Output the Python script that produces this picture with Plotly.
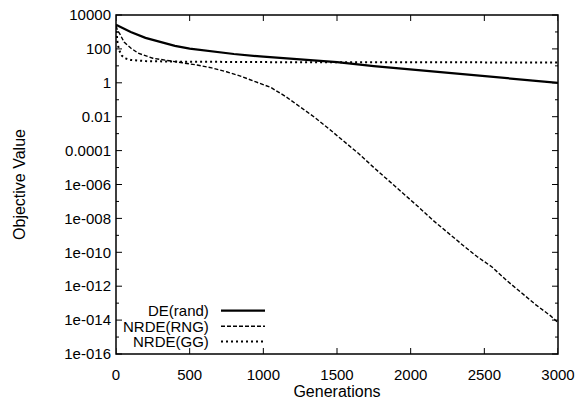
import plotly.graph_objects as go

# ---- data (log10 of objective value) ----
de_gen = [0, 50, 100, 200, 300, 400, 500, 600, 700, 800, 1000, 1250, 1500, 1750, 2000, 2250, 2500, 2750, 3000]
de_log = [3.42, 3.2, 3.0, 2.65, 2.4, 2.18, 2.02, 1.9, 1.78, 1.7, 1.54, 1.4, 1.22, 0.98, 0.78, 0.58, 0.36, 0.18, 0.0]

rng_gen = [0, 10, 25, 55, 100, 150, 250, 350, 450, 550, 650, 750, 850, 950, 1050, 1150, 1250, 1350, 1450,
           1550, 1650, 1750, 1850, 1950, 2050, 2150, 2250, 2350, 2450, 2550, 2650, 2750, 2850, 2950, 3000]
rng_log = [3.35, 3.1, 2.9, 2.4, 2.05, 1.75, 1.45, 1.3, 1.18, 1.05, 0.88, 0.65, 0.38, 0.05, -0.27, -0.8, -1.4, -2.05, -2.75,
           -3.45, -4.2, -5.0, -5.75, -6.5, -7.3, -8.1, -8.85, -9.55, -10.25, -10.85, -11.65, -12.4, -13.1, -13.75, -14.15]

gg_gen = [0, 5, 10, 20, 40, 60, 100, 200, 400, 1000, 2000, 3000]
gg_log = [3.35, 2.8, 2.4, 1.95, 1.6, 1.45, 1.35, 1.28, 1.25, 1.22, 1.2, 1.2]

series_names = ["DE(rand)", "NRDE(RNG)", "NRDE(GG)"]
y_tick_exp = [4, 2, 0, -2, -4, -6, -8, -10, -12, -14, -16]
y_tick_text = ["10000", "100", "1", "0.01", "0.0001", "1e-006", "1e-008", "1e-010", "1e-012", "1e-014", "1e-016"]
y_minor_exp = [3, 1, -1, -3, -5, -7, -9, -11, -13, -15]
x_tick_vals = [0, 500, 1000, 1500, 2000, 2500, 3000]
y_range = [-16, 4]
x_range = [0, 3000]

styles = [
    dict(color="black", width=2.2, dash="solid"),
    dict(color="black", width=1.4, dash="4px,2px"),
    dict(color="black", width=2.0, dash="2px,3px"),
]

W, H = 583, 407
ML, MR, MT, MB = 116, 25, 15, 53
plot_w = W - ML - MR
plot_h = H - MT - MB

fig = go.Figure()
for name, gx, gl, st in zip(series_names, [de_gen, rng_gen, gg_gen], [de_log, rng_log, gg_log], styles):
    fig.add_trace(go.Scatter(x=gx, y=[10 ** v for v in gl], mode="lines", name=name,
                             line=st, showlegend=False))

font = dict(family="Liberation Sans, Arial, sans-serif", size=15, color="black")

fig.update_layout(
    width=W, height=H,
    margin=dict(l=ML, r=MR, t=MT, b=MB),
    paper_bgcolor="white", plot_bgcolor="white",
    font=font,
    showlegend=False,
)
fig.update_xaxes(
    range=x_range, tickvals=x_tick_vals, ticks="", automargin=False, ticklabelstandoff=10,
    showline=False, showgrid=False, zeroline=False,
    title=dict(text="Generations", font=dict(size=16), standoff=3),
)
fig.update_yaxes(
    type="log", range=y_range, tickvals=[10 ** e for e in y_tick_exp], ticktext=y_tick_text,
    ticks="", automargin=False, ticklabelstandoff=4, showline=False, showgrid=False, zeroline=False,
    title=dict(text="Objective Value", font=dict(size=16), standoff=34),
)

# frame
frame = dict(color="black", width=1.5)
fig.add_shape(type="rect", xref="paper", yref="paper", x0=0, x1=1, y0=0, y1=1, line=frame, layer="above")

# tick marks (inside, mirrored) placed from the tick value lists
tick_line = dict(color="black", width=1)
major_len_x = 6 / plot_w
major_len_y = 6 / plot_h
minor_len_x = 3 / plot_w
for xv in x_tick_vals:
    fig.add_shape(type="line", xref="x", yref="paper", x0=xv, x1=xv, y0=0, y1=major_len_y, line=tick_line)
    fig.add_shape(type="line", xref="x", yref="paper", x0=xv, x1=xv, y0=1, y1=1 - major_len_y, line=tick_line)
for exps, ln in [(y_tick_exp, major_len_x), (y_minor_exp, minor_len_x)]:
    for e in exps:
        yp = (e - y_range[0]) / (y_range[1] - y_range[0])
        fig.add_shape(type="line", xref="paper", yref="paper", x0=0, x1=ln, y0=yp, y1=yp, line=tick_line)
        fig.add_shape(type="line", xref="paper", yref="paper", x0=1, x1=1 - ln, y0=yp, y1=yp, line=tick_line)

# gnuplot-style key: right-aligned label followed by line sample (paper coords)
key_y_px = [310.7, 326.2, 341.5]
for name, st, ypx in zip(series_names, styles, key_y_px):
    yp = (H - MB - ypx) / plot_h
    fig.add_annotation(x=(210 - ML) / plot_w, y=yp, xref="paper", yref="paper", text=name,
                       showarrow=False, xanchor="right", yanchor="middle", font=dict(size=15),
                       borderpad=0)
    fig.add_shape(type="line", xref="paper", yref="paper",
                  x0=(221 - ML) / plot_w, x1=(265 - ML) / plot_w, y0=yp, y1=yp,
                  line=st)

fig.write_html("out.html", config={"displayModeBar": False},
               post_script="document.body.style.margin='0';document.body.style.overflow='hidden';")
